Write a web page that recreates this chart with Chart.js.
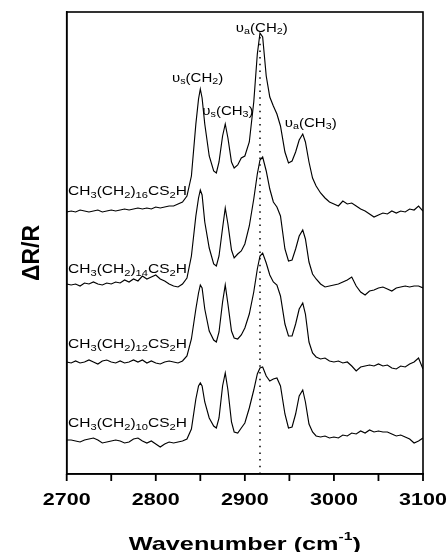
<!DOCTYPE html>
<html>
<head>
<meta charset="utf-8">
<script src="https://cdn.jsdelivr.net/npm/chart.js@4/dist/chart.umd.min.js"></script>
<style>
  html, body { margin: 0; padding: 0; background: #fff; }
  #wrap { width: 448px; height: 552px; }
</style>
</head>
<body>
<div id="wrap"><canvas id="chart"></canvas></div>
<script>
// wavenumber grid (cm-1), shared by all four spectra
const wavenumbers = [
    2700, 2705, 2710, 2715, 2720, 2725, 2730, 2735, 2740, 2745, 2750, 2755, 2760, 2765,
    2770, 2775, 2780, 2785, 2790, 2795, 2800, 2805, 2810, 2815, 2820, 2825, 2830,
    2835, 2840, 2845, 2848, 2850, 2852, 2855, 2860, 2865, 2868, 2871, 2875, 2878, 2881,
    2885, 2888, 2892, 2896, 2900, 2905, 2910, 2914, 2917, 2920, 2924, 2928, 2932, 2936,
    2940, 2945, 2949, 2953, 2957, 2961, 2965, 2968, 2972, 2976, 2980, 2985, 2990, 2995,
    3000, 3005, 3010, 3015, 3020, 3025, 3030, 3035, 3040, 3045, 3050, 3055, 3060, 3065,
    3070, 3075, 3080, 3085, 3090, 3095, 3100
];

// offset ΔR/R traces (arbitrary units)
const c16 = [
    262, 263, 262, 264, 263, 262, 263, 264, 262, 263, 264, 263, 264, 265,
    264, 265, 266, 265, 266, 265, 267, 266, 267, 268, 268, 270, 272,
    278, 298, 350, 375, 385, 376, 350, 318, 303, 301, 312, 338, 350, 336,
    312, 306, 309, 316, 318, 332, 372, 420, 441, 437, 398, 377, 368, 360,
    348, 322, 311, 313, 322, 334, 340, 332, 312, 296, 288, 281, 276, 272,
    270, 268, 273, 270, 271, 268, 265, 263, 260, 257, 259, 261, 260, 263,
    261, 263, 262, 265, 264, 268, 263
];
const c14 = [
    190, 189, 190, 188, 191, 190, 192, 190, 189, 191, 190, 192, 191, 194,
    192, 195, 193, 198, 195, 197, 199, 195, 193, 190, 188, 187, 190,
    196, 218, 258, 276, 284, 279, 252, 226, 210, 208, 218, 246, 266, 250,
    224, 216, 220, 223, 230, 248, 275, 300, 314, 317, 303, 285, 272, 267,
    258, 225, 213, 214, 225, 238, 244, 235, 212, 200, 195, 190, 187, 188,
    189, 190, 192, 194, 197, 188, 182, 179, 183, 184, 186, 187, 185, 183,
    186, 187, 188, 187, 188, 188, 186
];
const c12 = [
    112, 111, 113, 111, 112, 114, 112, 110, 113, 114, 112, 111, 113, 111,
    112, 114, 112, 114, 111, 113, 111, 110, 112, 113, 112, 111, 113,
    118, 135, 165, 181, 189, 186, 165, 143, 134, 132, 142, 172, 189, 170,
    143, 136, 135, 139, 146, 160, 182, 205, 218, 221, 211, 199, 192, 189,
    178, 150, 138, 138, 150, 165, 171, 160, 132, 121, 117, 115, 116, 113,
    112, 113, 111, 112, 108, 103, 107, 108, 109, 108, 110, 108, 109, 106,
    105, 108, 107, 110, 112, 116, 105
];
const c10 = [
    34, 34, 33, 32, 34, 35, 36, 34, 31, 32, 33, 34, 33, 31,
    32, 35, 36, 33, 31, 33, 30, 27, 30, 32, 31, 32, 33,
    35, 45, 75, 88, 91, 88, 72, 56, 48, 46, 56, 88, 101, 84,
    52, 42, 41, 46, 51, 66, 84, 100, 106, 107, 98, 93, 95, 96,
    88, 60, 46, 47, 60, 78, 84, 72, 50, 42, 38, 37, 38, 36,
    37, 36, 39, 38, 41, 40, 43, 41, 44, 42, 43, 42, 42, 40,
    38, 39, 37, 35, 31, 33, 36
];

const traces = [c16, c14, c12, c10];
// {} marks subscript, <> marks superscript
const traceNames = ["CH{3}(CH{2}){16}CS{2}H", "CH{3}(CH{2}){14}CS{2}H", "CH{3}(CH{2}){12}CS{2}H", "CH{3}(CH{2}){10}CS{2}H"];
const traceLabelY = [279, 201, 126, 47];
const peakNames = ["υ{s}(CH{2})", "υ{s}(CH{3})", "υ{a}(CH{2})", "υ{a}(CH{3})"];
const peakLabelX = [2847, 2881, 2919, 2974];
const peakLabelY = [392, 359, 442, 347];
const markerWavenumber = 2917;
const xTicks = [2700, 2800, 2900, 3000, 3100];
const xTickMarks = [2700, 2750, 2800, 2850, 2900, 2950, 3000, 3050, 3100];

const FONT = '"Liberation Sans", Arial, sans-serif';

function drawRich(ctx, text, x, y, size, bold, stretch, align) {
    const runs = [];
    let mode = 'n', buf = '';
    for (const ch of text) {
        if (ch === '{' || ch === '<') {
            if (buf) runs.push([buf, mode]);
            buf = '';
            mode = ch === '{' ? 'sub' : 'sup';
        } else if (ch === '}' || ch === '>') {
            if (buf) runs.push([buf, mode]);
            buf = '';
            mode = 'n';
        } else {
            buf += ch;
        }
    }
    if (buf) runs.push([buf, mode]);

    const fontFor = m => {
        const s = m === 'n' ? size : m === 'sub' ? size * 0.72 : size * 0.62;
        return (bold ? 'bold ' : '') + s.toFixed(1) + 'px ' + FONT;
    };
    let width = 0;
    runs.forEach(r => {
        ctx.font = fontFor(r[1]);
        r.push(ctx.measureText(r[0]).width);
        width += r[2];
    });

    ctx.save();
    ctx.translate(x, y);
    ctx.scale(stretch, 1);
    ctx.textAlign = 'left';
    ctx.textBaseline = 'alphabetic';
    let cx = align === 'center' ? -width / 2 : 0;
    runs.forEach(r => {
        ctx.font = fontFor(r[1]);
        const dy = r[1] === 'sub' ? size * 0.2 : r[1] === 'sup' ? -size * 0.55 : 0;
        ctx.fillText(r[0], cx, dy);
        cx += r[2];
    });
    ctx.restore();
}

const textPlugin = {
    id: 'texts',
    afterDraw(chart) {
        const ctx = chart.ctx;
        const area = chart.chartArea;
        const xs = chart.scales.x;
        const ys = chart.scales.y;
        ctx.save();
        ctx.strokeStyle = '#000';
        ctx.lineWidth = 1.6;
        ctx.strokeRect(area.left, area.top, area.right - area.left, area.bottom - area.top);

        // outward tick marks every 50 cm-1
        ctx.fillStyle = '#000';
        xTickMarks.forEach(v => {
            const px = xs.getPixelForValue(v);
            ctx.fillRect(px - 0.9, area.bottom, 1.8, 7);
        });

        xTicks.forEach(v => {
            drawRich(ctx, String(v), xs.getPixelForValue(v), area.bottom + 31, 16.3, true, 1.32, 'center');
        });
        drawRich(ctx, 'Wavenumber (cm<-1>)', (area.left + area.right) / 2, 550, 18.6, true, 1.36, 'center');

        ctx.save();
        ctx.translate(38.5, 253);
        ctx.rotate(-Math.PI / 2);
        drawRich(ctx, 'ΔR/R', 0, 0, 23, true, 1, 'center');
        ctx.restore();

        traceNames.forEach((name, i) => {
            drawRich(ctx, name, xs.getPixelForValue(2701.5), ys.getPixelForValue(traceLabelY[i]), 12.5, false, 1.24, 'left');
        });
        peakNames.forEach((name, i) => {
            drawRich(ctx, name, xs.getPixelForValue(peakLabelX[i]), ys.getPixelForValue(peakLabelY[i]), 12, false, 1.25, 'center');
        });
        ctx.restore();
    }
};

const datasets = traces.map(t => ({
    data: wavenumbers.map((w, i) => ({ x: w, y: t[i] })),
    borderColor: '#000',
    borderWidth: 1.15,
    pointRadius: 0,
    tension: 0,
    fill: false
}));
datasets.push({
    data: [{ x: markerWavenumber, y: 0 }, { x: markerWavenumber, y: 440 }],
    borderColor: '#000',
    borderWidth: 1.5,
    borderDash: [1.5, 5.2],
    pointRadius: 0,
    fill: false
});

new Chart(document.getElementById('chart'), {
    type: 'line',
    data: { datasets: datasets },
    options: {
        responsive: true,
        maintainAspectRatio: false,
        animation: false,
        layout: { padding: { top: 12, right: 25, left: 0, bottom: 0 } },
        plugins: { legend: { display: false }, tooltip: { enabled: false } },
        scales: {
            x: {
                type: 'linear',
                min: 2700,
                max: 3100,
                // labels and tick marks are drawn by textPlugin using this scale
                ticks: { display: false, stepSize: 50 },
                grid: { display: false },
                border: { display: true, color: '#000', width: 1.6 },
                afterFit: s => { s.height = 78; }
            },
            y: {
                min: 0,
                max: 462,
                ticks: { display: false },
                grid: { display: false },
                border: { display: true, color: '#000', width: 1.6 },
                afterFit: s => { s.width = 66.7; }
            }
        }
    },
    plugins: [textPlugin]
});
</script>
</body>
</html>
